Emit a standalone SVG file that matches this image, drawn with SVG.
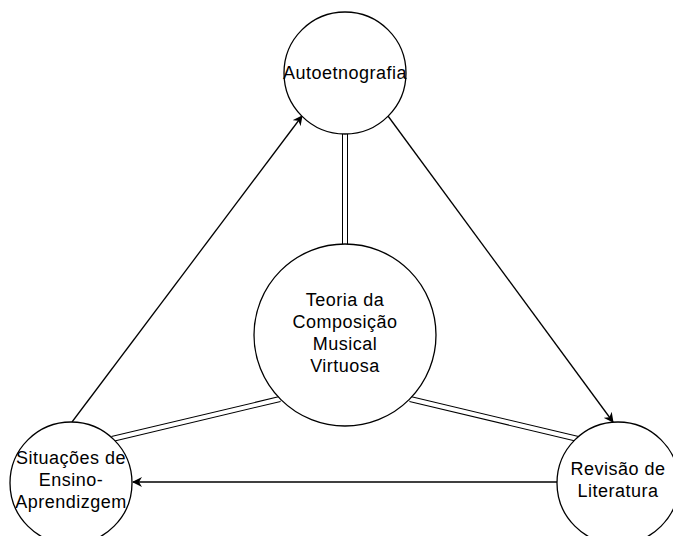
<svg xmlns="http://www.w3.org/2000/svg" width="673" height="536" viewBox="0 0 673 536">
<defs>
<style>
.node{fill:#fff;stroke:#000;stroke-width:1.3}
.lbl{font-family:"Liberation Sans",Arial,sans-serif;font-size:18px;letter-spacing:0.5px;fill:#000;text-anchor:middle}
.arrow{fill:none;stroke:#000;stroke-width:1.3}
.dblo{fill:none;stroke:#000;stroke-width:6}
.dbli{fill:none;stroke:#fff;stroke-width:4}
</style>
<marker id="ah" viewBox="0 0 10 10" refX="9" refY="5" markerWidth="10" markerHeight="10" markerUnits="userSpaceOnUse" orient="auto">
<path d="M0,0 L10,5 L0,10 L3,5 Z" fill="#000"/>
</marker>
</defs>
<rect width="673" height="536" fill="#fff"/>
<g id="connectors">
<path class="dblo" d="M345,134 L345,245"/>
<path class="dbli" d="M345,134 L345,245"/>
<path class="dblo" d="M112,439 L280,399"/>
<path class="dbli" d="M112,439 L280,399"/>
<path class="dblo" d="M410,399 L578,439"/>
<path class="dbli" d="M410,399 L578,439"/>
<path class="arrow" d="M72,422 L302,116" marker-end="url(#ah)"/>
<path class="arrow" d="M388,116 L613,422" marker-end="url(#ah)"/>
<path class="arrow" d="M557,482 L133,482" marker-end="url(#ah)"/>
</g>
<g id="autoetnografia">
<circle class="node" cx="345" cy="73" r="61"/>
<text class="lbl" x="345" y="79">Autoetnografia</text>
</g>
<g id="teoria">
<circle class="node" cx="345" cy="335" r="91"/>
<text class="lbl" x="345" y="306">Teoria da</text>
<text class="lbl" x="345" y="328">Composição</text>
<text class="lbl" x="345" y="350">Musical</text>
<text class="lbl" x="345" y="372">Virtuosa</text>
</g>
<g id="situacoes">
<circle class="node" cx="71" cy="483" r="61"/>
<text class="lbl" x="71" y="464">Situações de</text>
<text class="lbl" x="71" y="486">Ensino-</text>
<text class="lbl" x="71" y="508">Aprendizgem</text>
</g>
<g id="revisao">
<circle class="node" cx="618" cy="483" r="61"/>
<text class="lbl" x="618" y="475">Revisão de</text>
<text class="lbl" x="618" y="497">Literatura</text>
</g>
</svg>
